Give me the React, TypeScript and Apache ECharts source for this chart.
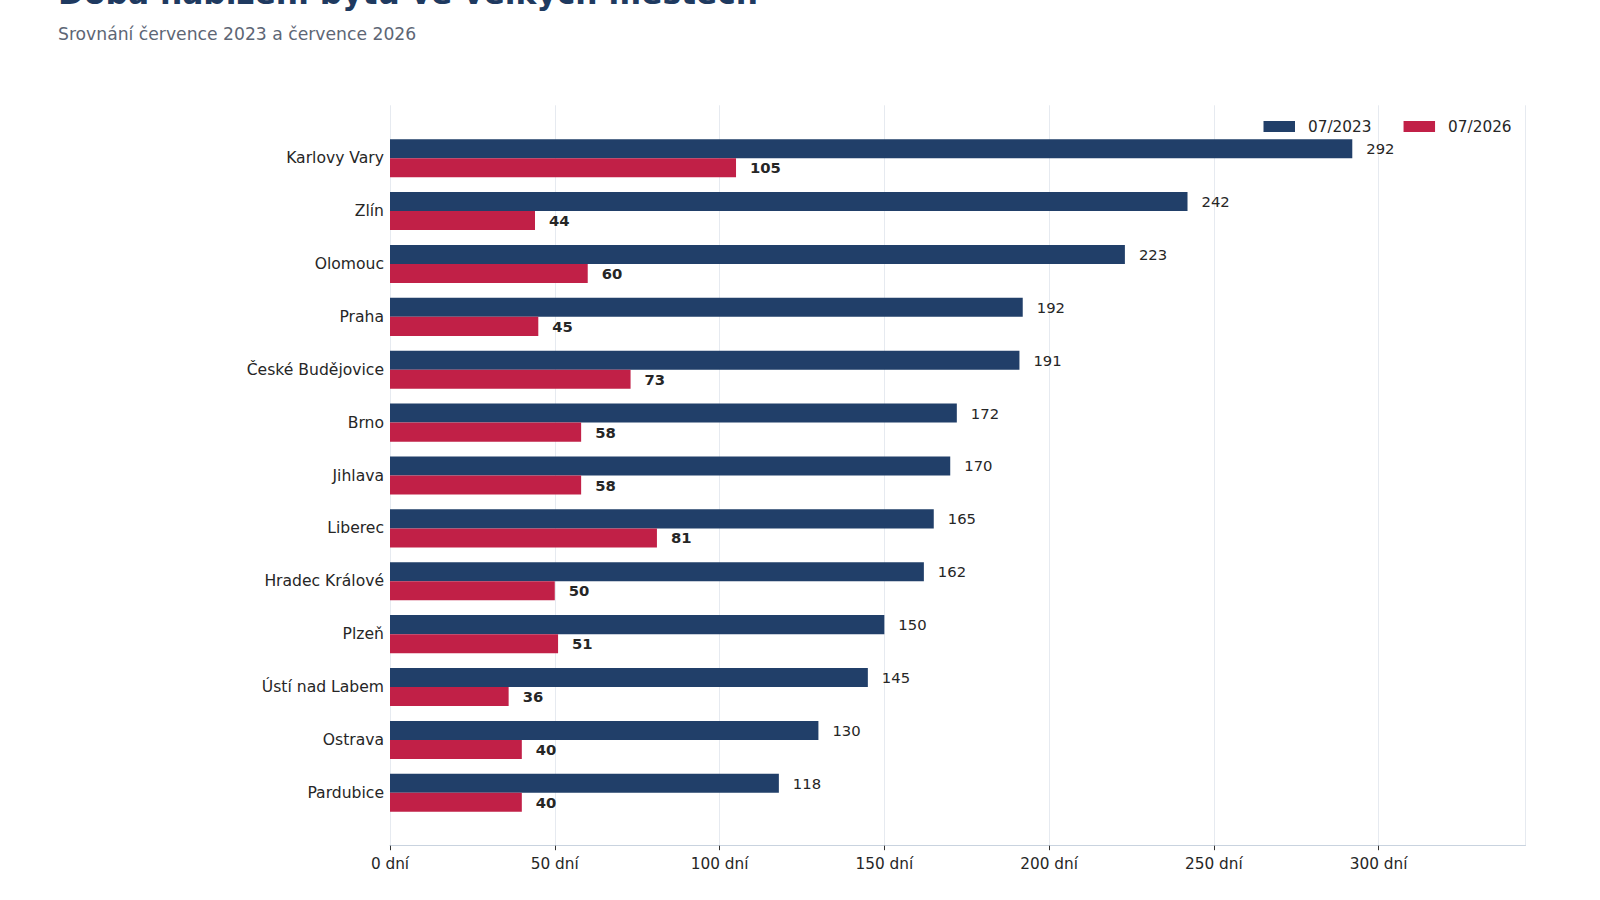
import React, { useEffect, useRef } from "react";
import * as echarts from "echarts";

const cities = [
  "Karlovy Vary",
  "Zlín",
  "Olomouc",
  "Praha",
  "České Budějovice",
  "Brno",
  "Jihlava",
  "Liberec",
  "Hradec Králové",
  "Plzeň",
  "Ústí nad Labem",
  "Ostrava",
  "Pardubice",
];
const values2023 = [292, 242, 223, 192, 191, 172, 170, 165, 162, 150, 145, 130, 118];
const values2026 = [105, 44, 60, 45, 73, 58, 58, 81, 50, 51, 36, 40, 40];
const seriesNames = ["07/2023", "07/2026"];
const titleText = "Doba nabízení bytů ve velkých městech";
const subtitleText = "Srovnání července 2023 a července 2026";

const FONT = "DejaVu Sans";
const BLUE = "#213f69";
const RED = "#c12047";
const TEXT = "#262626";

export default function App() {
  const ref = useRef<HTMLDivElement>(null);
  useEffect(() => {
    if (!ref.current) return;
    const chart = echarts.init(ref.current, undefined, { renderer: "svg" });
    const xMax = Math.max(...values2023) * 1.18;
    const gridL = 390;
    const gridR = 74.5;
    const outerTop = 105.3;
    const outerBottom = 54.3;
    const band = (900 - outerTop - outerBottom) / 14;
    chart.setOption({
      animation: false,
      textStyle: { fontFamily: FONT },
      graphic: [
        {
          type: "text",
          x: 58,
          y: -7,
          style: {
            text: titleText,
            fontFamily: FONT,
            fontSize: 31.3,
            fontWeight: "bold",
            fill: "#1f3a60",
            verticalAlign: "middle",
          },
        },
        {
          type: "text",
          x: 58,
          y: 34,
          style: {
            text: subtitleText,
            fontFamily: FONT,
            fontSize: 17.2,
            fill: "#5d6675",
            verticalAlign: "middle",
          },
        },
      ],
      legend: {
        data: seriesNames,
        left: 1258.5,
        top: 114,
        itemWidth: 31.5,
        itemHeight: 11,
        itemGap: 32,
        icon: "rect",
        textStyle: {
          fontFamily: FONT,
          fontSize: 15.3,
          color: TEXT,
          padding: [0, 0, 0, 8],
        },
      },
      grid: [
        { left: gridL, right: gridR, top: outerTop, bottom: outerBottom },
        {
          left: gridL,
          right: gridR,
          top: outerTop + band / 2,
          bottom: outerBottom + band / 2,
        },
      ],
      xAxis: [
        {
          type: "value",
          gridIndex: 0,
          min: 0,
          max: xMax,
          interval: 50,
          axisLine: { show: true, lineStyle: { color: "#c9d3df", width: 1 } },
          axisTick: { show: true, length: 4.5, lineStyle: { color: "#333333", width: 1 } },
          axisLabel: {
            show: true,
            formatter: (v: number) => `${v} dní`,
            fontFamily: FONT,
            fontSize: 15.3,
            color: TEXT,
            margin: 11,
            showMaxLabel: false,
          },
          splitLine: { show: true, lineStyle: { color: "#e6eaf0", width: 1 } },
        },
        {
          type: "value",
          gridIndex: 1,
          min: 0,
          max: xMax,
          interval: 50,
          show: false,
          splitLine: { show: false },
        },
      ],
      yAxis: [
        {
          type: "value",
          gridIndex: 0,
          min: 0,
          max: 1,
          show: false,
          splitLine: { show: false },
        },
        {
          type: "category",
          gridIndex: 1,
          data: cities,
          inverse: true,
          axisLine: { show: false },
          axisTick: { show: false },
          axisLabel: {
            fontFamily: FONT,
            fontSize: 15.6,
            color: TEXT,
            margin: 6,
          },
        },
      ],
      series: [
        {
          name: seriesNames[0],
          type: "bar",
          xAxisIndex: 1,
          yAxisIndex: 1,
          data: values2023,
          barWidth: band * 0.36,
          barGap: "0%",
          itemStyle: { color: BLUE },
          label: {
            show: true,
            position: "right",
            distance: 14,
            fontFamily: FONT,
            fontSize: 14.8,
            color: TEXT,
          },
        },
        {
          name: seriesNames[1],
          type: "bar",
          xAxisIndex: 1,
          yAxisIndex: 1,
          data: values2026,
          barWidth: band * 0.36,
          barGap: "0%",
          itemStyle: { color: RED },
          label: {
            show: true,
            position: "right",
            distance: 14,
            fontFamily: FONT,
            fontSize: 14.8,
            fontWeight: "bold",
            color: TEXT,
          },
        },
      ],
    });
    return () => chart.dispose();
  }, []);
  return (
    <div
      ref={ref}
      style={{ position: "fixed", left: 0, top: 0, width: 1600, height: 900, background: "#ffffff" }}
    />
  );
}
